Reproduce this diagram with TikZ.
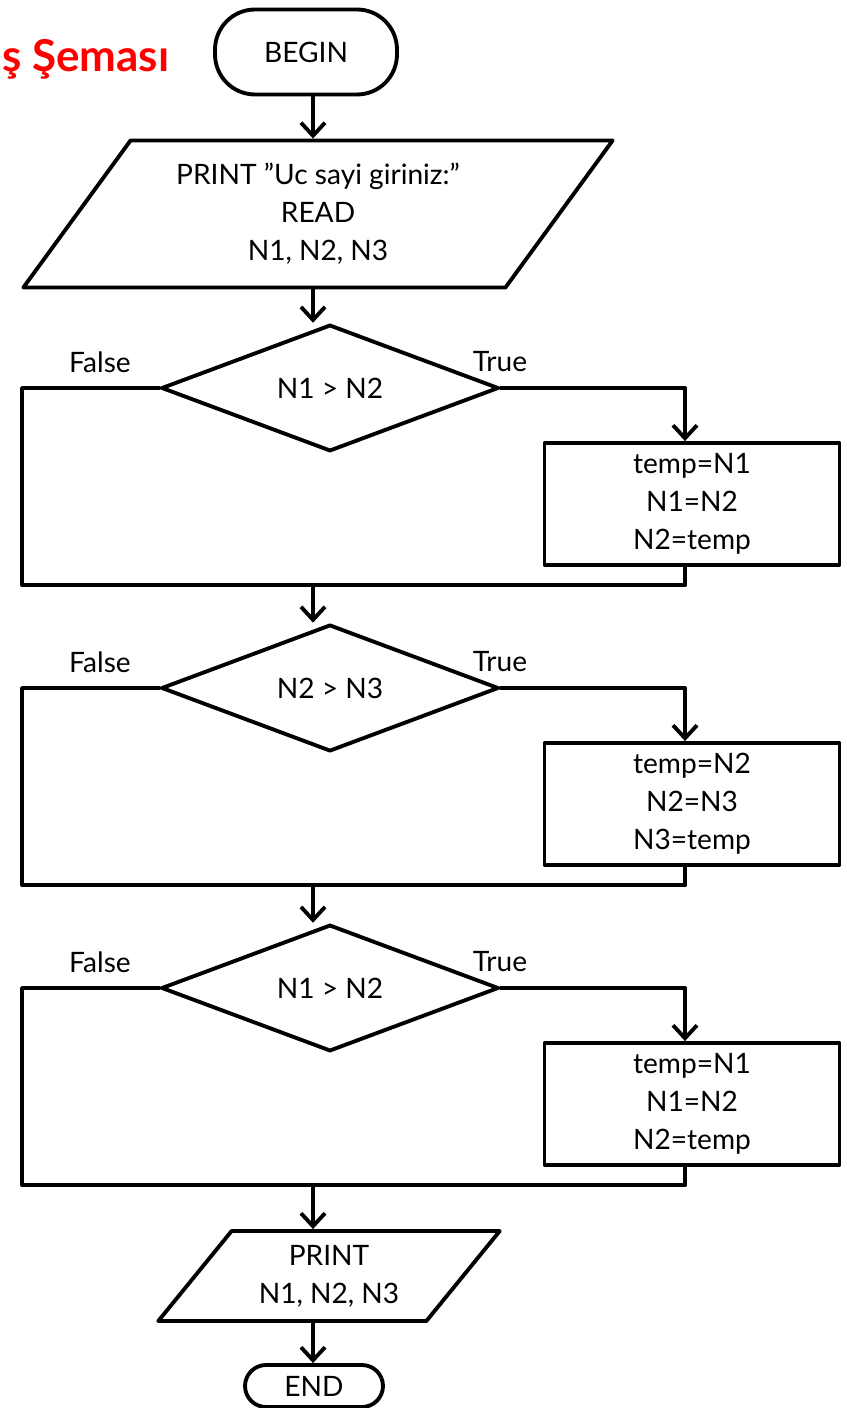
\documentclass[tikz,border=0pt]{standalone}
\usepackage{fontspec}
\setmainfont{Lato}
\usetikzlibrary{shapes.geometric,arrows.meta}
\tikzset{
  flowline/.style={line width=2.2pt, line cap=round, line join=round},
  arrowline/.style={flowline, -{Straight Barb[length=2.6mm,width=4.8mm]}},
  terminal/.style={draw, flowline, rectangle, align=center},
  inout/.style={draw, flowline, trapezium, trapezium stretches=true, align=center, inner sep=0pt},
  decision/.style={draw, flowline, diamond, minimum width=6.75cm, minimum height=2.2cm, inner sep=0pt},
  process/.style={draw, flowline, rectangle, minimum width=5.9cm, minimum height=2.44cm, align=center},
  tlabel/.style={inner sep=0pt},
  heading/.style={text=red, font=\fontsize{25}{30}\selectfont\bfseries, inner sep=0pt}
}
\begin{document}
\begin{tikzpicture}[x=0.02cm, y=-0.02cm, font=\fontsize{16}{21.6}\selectfont]
			\useasboundingbox (0,0) rectangle (846,1408);
			\coordinate (spine) at (313,0);
			\coordinate (lcol) at (22,0);
			\coordinate (rcol) at (685,0);
			% top of the chart
			\node[heading, anchor=base west] (title) at (2,72) {ş Şeması};
			\node[terminal, minimum width=3.64cm, minimum height=1.7cm, rounded corners=0.8cm] (begin) at (306,52) {BEGIN};
			\node[inout, trapezium left angle=51.3, trapezium right angle=128.7, minimum width=11.8cm, minimum height=2.94cm] (read) at (318,214) {PRINT ”Uc sayi giriniz:”\\READ\\N1, N2, N3};
			\draw[arrowline] (spine |- begin.south) -- (spine |- read.north);
			% the three compare and swap blocks
			\foreach \i/\y/\cnd/\ta/\tb/\tc in {1/388/{N1 > N2}/{temp=N1}/{N1=N2}/{N2=temp},
				2/688/{N2 > N3}/{temp=N2}/{N2=N3}/{N3=temp},
				3/988/{N1 > N2}/{temp=N1}/{N1=N2}/{N2=temp}} {
				\node[decision] (d\i) at (330,\y) {\cnd};
				\node[process] (b\i) at (692,\y+116) {\ta\\\tb\\\tc};
				\coordinate (j\i) at (685,\y+197);
				\node[tlabel] (f\i) at (100,\y-26) {False};
				\node[tlabel] (t\i) at (500,\y-26) {True};
				\draw[flowline] (d\i.west) -- (lcol |- d\i.west) -- (lcol |- j\i) -- (j\i);
				\draw[arrowline] (d\i.east) -- (rcol |- d\i.east) -- (b\i.north -| rcol);
				\draw[flowline] (b\i.south -| rcol) -- (j\i);
			}
			\draw[arrowline] (spine |- read.south) -- (spine |- d1.north);
			\foreach \a/\b in {j1/d2, j2/d3} {
				\draw[arrowline] (spine |- \a) -- (spine |- \b.north);
			}
			% output and end
			\node[inout, trapezium left angle=49.5, trapezium right angle=130.5, minimum width=6.84cm, minimum height=1.8cm] (print) at (329,1276) {PRINT\\N1, N2, N3};
			\node[terminal, minimum width=2.76cm, minimum height=0.84cm, rounded corners=0.42cm] (end) at (314,1386) {END};
			\draw[arrowline] (spine |- j3) -- (spine |- print.north);
			\draw[arrowline] (spine |- print.south) -- (spine |- end.north);
		\end{tikzpicture}
\end{document}
